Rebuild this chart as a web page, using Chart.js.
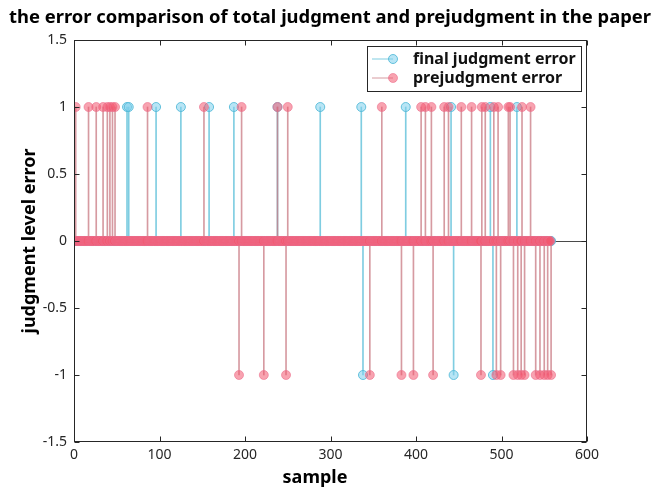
<!DOCTYPE html>
<html>
<head>
<meta charset="utf-8">
<script src="https://cdn.jsdelivr.net/npm/chart.js@4.4.1/dist/chart.umd.min.js"></script>
<style>
html,body{margin:0;padding:0;background:#fff;}
#wrap{position:relative;width:661px;height:488px;}
</style>
</head>
<body>
<div id="wrap"><canvas id="c"></canvas></div>
<script>
const SAMPLE_COUNT = 558;
// samples where each judgment missed by one level (up = +1, down = -1), all others are 0
const finalUp = [62, 64, 96, 125, 158, 187, 238, 288, 336, 388, 441, 487, 518];
const finalDown = [338, 444, 490];
const preUp = [2, 17, 26, 34, 39, 42, 45, 48, 86, 152, 196, 238, 250, 360, 406, 411, 418, 433, 438, 453, 465, 477, 481, 491, 496, 508, 510, 524, 534];
const preDown = [193, 222, 248, 346, 383, 397, 420, 476, 494, 499, 514, 519, 523, 527, 540, 545, 550, 554, 558];
const xTicks = [0, 100, 200, 300, 400, 500, 600];
const yTicks = [-1.5, -1, -0.5, 0, 0.5, 1, 1.5];
const seriesNames = ['final judgment error', 'prejudgment error'];
const chartTitle = 'the error comparison of total judgment and prejudgment in the paper';

const CYAN = {stem:'rgba(95,192,218,0.8)', fill:'rgba(125,208,236,0.55)', edge:'rgba(80,185,215,0.85)'};
const PINK = {stem:'rgba(200,120,130,0.75)', fill:'rgba(242,88,112,0.55)', edge:'rgba(236,110,140,0.6)'};
const AX = '#262626';
const FONT = "'Noto Sans', 'Open Sans', sans-serif";

function toSeries(up, down) {
  const pts = [];
  for (let i = 1; i <= SAMPLE_COUNT; i++) {
    pts.push({x: i, y: up.includes(i) ? 1 : (down.includes(i) ? -1 : 0)});
  }
  return pts;
}
const finalErr = toSeries(finalUp, finalDown);
const preErr = toSeries(preUp, preDown);

// box, inward ticks, stem baseline, titles and the legend
const matlabAxes = {
  id: 'matlabAxes',
  beforeDatasetsDraw(chart) {
    const {ctx, chartArea: a, scales: {y}} = chart;
    const y0 = Math.round(y.getPixelForValue(0)) + 0.5;
    ctx.save();
    ctx.strokeStyle = '#4a4a4a';
    ctx.lineWidth = 1;
    ctx.beginPath(); ctx.moveTo(a.left, y0); ctx.lineTo(a.right, y0); ctx.stroke();
    ctx.restore();
  },
  afterDatasetsDraw(chart) {
    const {ctx, chartArea: a, scales: {x, y}} = chart;
    ctx.save();
    ctx.strokeStyle = AX;
    ctx.lineWidth = 1;
    const L = Math.round(a.left) + 0.5, R = Math.round(a.right) - 0.5;
    const T = Math.round(a.top) + 0.5, B = Math.round(a.bottom) - 0.5;
    ctx.strokeRect(L, T, R - L, B - T);
    ctx.beginPath();
    xTicks.forEach(v => {
      const px = Math.round(x.getPixelForValue(v)) + 0.5;
      ctx.moveTo(px, B); ctx.lineTo(px, B - 5);
      ctx.moveTo(px, T); ctx.lineTo(px, T + 5);
    });
    yTicks.forEach(v => {
      const py = Math.round(y.getPixelForValue(v)) + 0.5;
      ctx.moveTo(L, py); ctx.lineTo(L + 5, py);
      ctx.moveTo(R, py); ctx.lineTo(R - 5, py);
    });
    ctx.stroke();
    ctx.restore();
  },
  afterDraw(chart) {
    const {ctx} = chart;
    ctx.save();
    ctx.fillStyle = '#000';
    ctx.textAlign = 'center';
    ctx.textBaseline = 'middle';
    ctx.font = 'bold 18.4px ' + FONT;
    ctx.fillText(chartTitle, 330, 18);
    ctx.font = 'bold 18px ' + FONT;
    ctx.fillText('sample', 315, 478);

    const bx = 367.5, by = 46.5, bw = 214, bh = 45;
    ctx.fillStyle = '#fff';
    ctx.fillRect(bx, by, bw, bh);
    ctx.strokeStyle = AX;
    ctx.lineWidth = 1;
    ctx.strokeRect(bx, by, bw, bh);
    ctx.textAlign = 'left';
    [CYAN, PINK].forEach((c, i) => {
      const ly = 59 + i * 19;
      ctx.strokeStyle = c.stem;
      ctx.beginPath(); ctx.moveTo(372, ly); ctx.lineTo(393, ly); ctx.stroke();
      ctx.fillStyle = c.fill; ctx.strokeStyle = c.edge;
      ctx.beginPath(); ctx.arc(393, ly, 4.5, 0, Math.PI * 2); ctx.fill(); ctx.stroke();
      ctx.fillStyle = '#111';
      ctx.font = 'bold 16px ' + FONT;
      ctx.fillText(seriesNames[i], 413, ly);
    });
    ctx.restore();
  }
};

const common = {grouped: false, barThickness: 1, borderWidth: 0};
new Chart(document.getElementById('c'), {
  type: 'bar',
  data: {
    datasets: [
      {type: 'line', label: seriesNames[1], data: preErr, showLine: false, pointRadius: 4.5,
       pointBackgroundColor: PINK.fill, pointBorderColor: PINK.edge, pointBorderWidth: 1, order: 0},
      {label: seriesNames[1] + ' stem', data: preErr, backgroundColor: PINK.stem, order: 1, ...common},
      {type: 'line', label: seriesNames[0], data: finalErr, showLine: false, pointRadius: 4.5,
       pointBackgroundColor: CYAN.fill, pointBorderColor: CYAN.edge, pointBorderWidth: 1, order: 2},
      {label: seriesNames[0] + ' stem', data: finalErr, backgroundColor: CYAN.stem, order: 3, ...common}
    ]
  },
  options: {
    responsive: true,
    maintainAspectRatio: false,
    animation: false,
    layout: {padding: {left: 0, right: 74, top: 40, bottom: 0}},
    plugins: {
      legend: {display: false},
      tooltip: {enabled: false},
      title: {display: false}
    },
    scales: {
      x: {
        type: 'linear', min: 0, max: 600, offset: false,
        afterBuildTicks: s => { s.ticks = xTicks.map(v => ({value: v})); },
        afterFit: s => { s.height = 46; },
        grid: {display: false, drawTicks: false},
        border: {display: false},
        ticks: {color: AX, font: {family: FONT, size: 14}, padding: 5, maxRotation: 0, callback: v => String(v)}
      },
      y: {
        min: -1.5, max: 1.5,
        afterBuildTicks: s => { s.ticks = yTicks.map(v => ({value: v})); },
        afterFit: s => { s.width = 74; },
        grid: {display: false, drawTicks: false},
        border: {display: false},
        ticks: {color: AX, font: {family: FONT, size: 14}, padding: 7, callback: v => String(v)},
        title: {display: true, text: 'judgment level error', color: '#000', font: {family: FONT, size: 18, weight: 'bold'}, padding: {top: 19, bottom: 0}}
      }
    }
  },
  plugins: [matlabAxes]
});
</script>
</body>
</html>
